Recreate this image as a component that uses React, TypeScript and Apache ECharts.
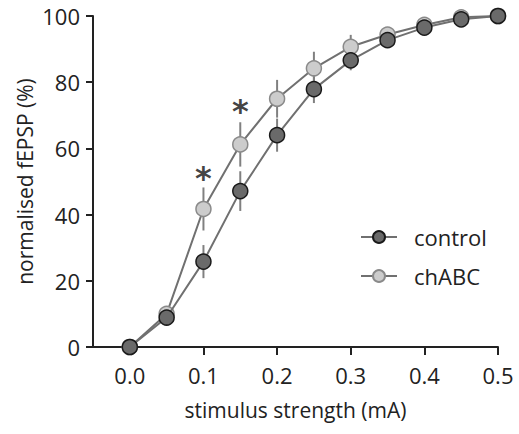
import React, { useEffect, useRef } from "react";
import * as echarts from "echarts";

const stimulus = [0, 0.05, 0.1, 0.15, 0.2, 0.25, 0.3, 0.35, 0.4, 0.45, 0.5];
const controlMean = [0, 8.9, 25.8, 47.1, 64, 77.9, 86.6, 92.7, 96.5, 99, 100];
const controlErr = [0.5, 1.5, 5, 6, 5, 4.2, 3, 1.8, 1.2, 0.8, 0.3];
const chabcMean = [0, 10, 41.7, 61.2, 75, 84.2, 90.7, 94.4, 97.3, 99.6, 100];
const chabcErr = [0.5, 1.5, 6.5, 6.7, 5.7, 5, 3.6, 1.6, 1.2, 0.6, 0.3];
const tickValues = [0, 0.1, 0.2, 0.3, 0.4, 0.5];
const sigPoints = [
  [0.1, 53],
  [0.15, 73],
];

const FONT = "Open Sans";
const FS = 22;

export default function App() {
  const ref = useRef<HTMLDivElement>(null);
  useEffect(() => {
    if (!ref.current) return;
    const chart = echarts.init(ref.current, undefined, { renderer: "svg" });
    const errData = (means: number[], errs: number[]) =>
      stimulus.map((x, i) => [x, means[i], errs[i]]);
    const renderErr = (params: any, api: any) => {
      const x = api.value(0);
      const y = api.value(1);
      const e = api.value(2);
      const p1 = api.coord([x, y - e]);
      const p2 = api.coord([x, y + e]);
      return {
        type: "line",
        shape: { x1: p1[0], y1: p1[1], x2: p2[0], y2: p2[1] },
        style: { stroke: "#808080", lineWidth: 2 },
      };
    };
    chart.setOption({
      animation: false,
      textStyle: { fontFamily: FONT },
      grid: { left: 93, right: 21, top: 16, bottom: 87 },
      legend: {
        data: ["control", "chABC"],
        orient: "vertical",
        left: 355,
        top: 221,
        itemWidth: 36,
        itemHeight: 15,
        itemGap: 17,
        textStyle: { fontFamily: FONT, fontSize: FS, color: "#222", padding: [0, 0, 0, 12] },
      },
      xAxis: {
        type: "value",
        min: -0.05,
        max: 0.5,
        name: "stimulus strength (mA)",
        nameLocation: "middle",
        nameGap: 52,
        nameMoveOverlap: false,
        nameTextStyle: { fontFamily: FONT, fontSize: 21, color: "#222" },
        axisLine: { show: true, onZero: false, lineStyle: { color: "#222", width: 2 } },
        axisTick: {
          show: true,
          length: 8,
          customValues: tickValues,
          lineStyle: { color: "#222", width: 2 },
        },
        axisLabel: {
          customValues: tickValues,
          formatter: (v: number) => v.toFixed(1),
          fontFamily: FONT,
          fontSize: FS,
          color: "#222",
          margin: 17,
        },
        splitLine: { show: false },
      },
      yAxis: {
        type: "value",
        min: 0,
        max: 100,
        interval: 20,
        name: "normalised fEPSP (%)",
        nameLocation: "middle",
        nameGap: 58,
        nameMoveOverlap: false,
        nameTextStyle: { fontFamily: FONT, fontSize: 21, color: "#222" },
        axisLine: { show: true, onZero: false, lineStyle: { color: "#222", width: 2 } },
        axisTick: { show: true, length: 7, lineStyle: { color: "#222", width: 2 } },
        axisLabel: { fontFamily: FONT, fontSize: FS, color: "#222", margin: 13 },
        splitLine: { show: false },
      },
      series: [
        {
          type: "custom",
          name: "chABC err",
          renderItem: renderErr,
          data: errData(chabcMean, chabcErr),
          z: 1,
          silent: true,
        },
        {
          type: "custom",
          name: "control err",
          renderItem: renderErr,
          data: errData(controlMean, controlErr),
          z: 1,
          silent: true,
        },
        {
          type: "line",
          name: "chABC",
          data: stimulus.map((x, i) => [x, chabcMean[i]]),
          symbol: "circle",
          symbolSize: 15,
          lineStyle: { color: "#707070", width: 2 },
          itemStyle: { color: "#cccccc", borderColor: "#8a8a8a", borderWidth: 1.5 },
          z: 2,
        },
        {
          type: "line",
          name: "control",
          data: stimulus.map((x, i) => [x, controlMean[i]]),
          symbol: "circle",
          symbolSize: 15,
          lineStyle: { color: "#707070", width: 2 },
          itemStyle: { color: "#6a6a6a", borderColor: "#1a1a1a", borderWidth: 1.5 },
          z: 3,
        },
        {
          type: "scatter",
          name: "sig",
          data: sigPoints,
          symbolSize: 0,
          itemStyle: { color: "transparent" },
          label: {
            show: true,
            position: "inside",
            formatter: "*",
            fontFamily: "DejaVu Sans",
            fontSize: 32,
            fontWeight: "bold",
            color: "#111",
            offset: [0, 6],
          },
          z: 4,
        },
      ],
    });
    return () => chart.dispose();
  }, []);
  return (
    <div
      ref={ref}
      style={{ position: "absolute", left: 0, top: 0, width: 519, height: 434 }}
    />
  );
}
